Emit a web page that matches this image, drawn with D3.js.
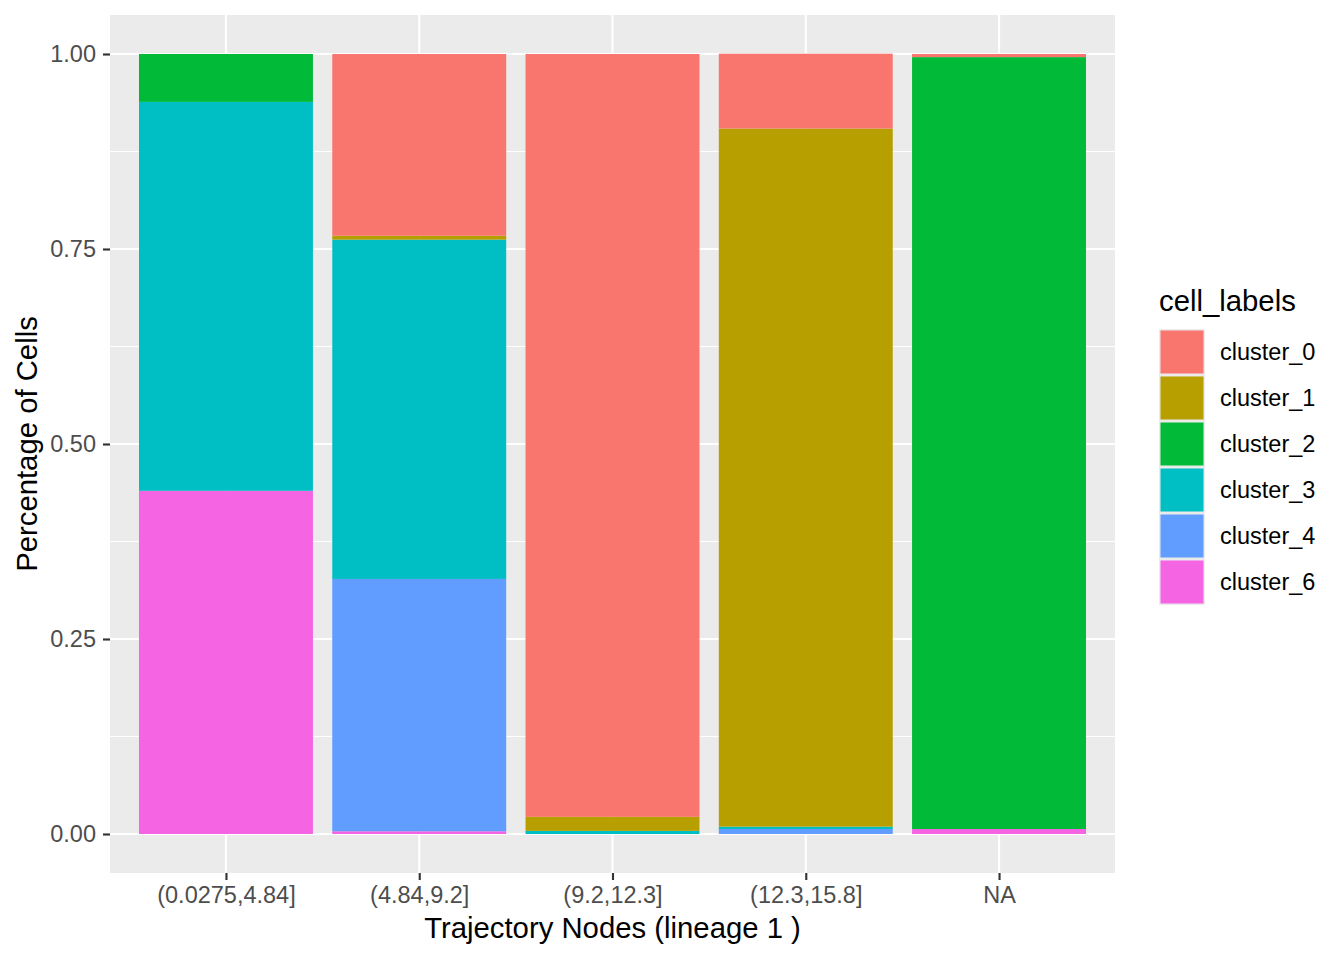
<!DOCTYPE html>
<html>
<head>
<meta charset="utf-8">
<script src="https://cdn.jsdelivr.net/npm/d3@7"></script>
<style>
  body { margin: 0; background: #fff; }
  text { font-family: "Liberation Sans", Arial, Helvetica, sans-serif; }
</style>
</head>
<body>
<svg id="chart" width="1344" height="960"></svg>
<script>
// bins along the trajectory
var bins = ["(0.0275,4.84]", "(4.84,9.2]", "(9.2,12.3]", "(12.3,15.8]", "NA"];
var clusters = ["cluster_0", "cluster_1", "cluster_2", "cluster_3", "cluster_4", "cluster_6"];
var colors = ["#F8766D", "#B79F00", "#00BA38", "#00BFC4", "#619CFF", "#F564E3"];

// share of cells per bin, one array per cluster (same order as bins)
var cluster_0 = [0, 0.233, 0.978, 0.096, 0.004];
var cluster_1 = [0, 0.005, 0.018, 0.895, 0];
var cluster_2 = [0.0614, 0, 0, 0, 0.9896];
var cluster_3 = [0.4986, 0.435, 0.004, 0.003, 0];
var cluster_4 = [0, 0.3235, 0, 0.0064, 0];
var cluster_6 = [0.44, 0.0035, 0, 0, 0.0064];

var yTicks = [0, 0.25, 0.5, 0.75, 1];
var yMinor = [0.125, 0.375, 0.625, 0.875];

var series = [cluster_0, cluster_1, cluster_2, cluster_3, cluster_4, cluster_6];

var rows = bins.map(function(b, i) {
    var r = { bin: b };
    clusters.forEach(function(c, j) { r[c] = series[j][i]; });
    return r;
});

var panel = { left: 110, right: 1115, top: 15, bottom: 873 };
var svg = d3.select("#chart");

// ggplot-like discrete expansion: 0.6 units on each side
var step = (panel.right - panel.left) / (bins.length - 1 + 1.2);
var x = d3.scalePoint().domain(bins)
    .range([panel.left + 0.6 * step, panel.right - 0.6 * step]);
var barW = step * 0.9;

var y = d3.scaleLinear().domain([-0.05, 1.05]).range([panel.bottom, panel.top]);
var color = d3.scaleOrdinal().domain(clusters).range(colors);

svg.append("rect")
    .attr("x", panel.left).attr("y", panel.top)
    .attr("width", panel.right - panel.left).attr("height", panel.bottom - panel.top)
    .attr("fill", "#EBEBEB");

// grid
svg.append("g").selectAll("line").data(yMinor).join("line")
    .attr("x1", panel.left).attr("x2", panel.right)
    .attr("y1", d => y(d)).attr("y2", d => y(d))
    .attr("stroke", "#fff").attr("stroke-width", 1.07);
svg.append("g").selectAll("line").data(yTicks).join("line")
    .attr("x1", panel.left).attr("x2", panel.right)
    .attr("y1", d => y(d)).attr("y2", d => y(d))
    .attr("stroke", "#fff").attr("stroke-width", 2.13);
svg.append("g").selectAll("line").data(bins).join("line")
    .attr("x1", d => x(d)).attr("x2", d => x(d))
    .attr("y1", panel.top).attr("y2", panel.bottom)
    .attr("stroke", "#fff").attr("stroke-width", 2.13);

// stacks: cluster_6 at the bottom, cluster_0 on top
var stack = d3.stack().keys(clusters.slice().reverse());
var layers = stack(rows);

svg.append("g").selectAll("g").data(layers).join("g")
    .attr("fill", d => color(d.key))
    .selectAll("rect").data(d => d).join("rect")
    .attr("x", d => x(d.data.bin) - barW / 2)
    .attr("width", barW)
    .attr("y", d => y(d[1]))
    .attr("height", d => Math.max(0, y(d[0]) - y(d[1])));

// axes
var yAxis = svg.append("g")
    .attr("transform", "translate(" + panel.left + ",0)")
    .call(d3.axisLeft(y).tickValues(yTicks).tickFormat(d3.format(".2f")).tickSizeOuter(0).tickSize(7).tickPadding(7));
var xAxis = svg.append("g")
    .attr("transform", "translate(0," + panel.bottom + ")")
    .call(d3.axisBottom(x).tickSizeOuter(0).tickSize(7).tickPadding(5));

[yAxis, xAxis].forEach(function(ax) {
    ax.select(".domain").remove();
    ax.selectAll(".tick line").attr("stroke", "#333").attr("stroke-width", 2.13);
    ax.selectAll(".tick text").attr("fill", "#4D4D4D").attr("font-size", 23.5);
});
xAxis.selectAll(".tick text").attr("y", 30).attr("dy", 0);

svg.append("text")
    .attr("x", (panel.left + panel.right) / 2).attr("y", 938)
    .attr("text-anchor", "middle").attr("font-size", 29.3).attr("fill", "#000")
    .text("Trajectory Nodes (lineage 1 )");
svg.append("text")
    .attr("transform", "translate(37," + (panel.top + panel.bottom) / 2 + ") rotate(-90)")
    .attr("text-anchor", "middle").attr("font-size", 29.3).attr("fill", "#000")
    .text("Percentage of Cells");

// legend
var legend = svg.append("g").attr("transform", "translate(1159,0)");
legend.append("text").attr("x", 0).attr("y", 311)
    .attr("font-size", 29.3).attr("fill", "#000").text("cell_labels");
var keyH = 46;
var item = legend.selectAll("g.key").data(clusters).join("g")
    .attr("class", "key")
    .attr("transform", (d, i) => "translate(0," + (329 + i * keyH) + ")");
item.append("rect").attr("width", 46).attr("height", keyH).attr("fill", "#EBEBEB");
item.append("rect").attr("x", 1.5).attr("y", 1.5).attr("width", 43).attr("height", keyH - 3)
    .attr("fill", d => color(d));
item.append("text").attr("x", 61).attr("y", keyH / 2).attr("dy", "0.35em")
    .attr("font-size", 23.5).attr("fill", "#000").text(d => d);
</script>
</body>
</html>
